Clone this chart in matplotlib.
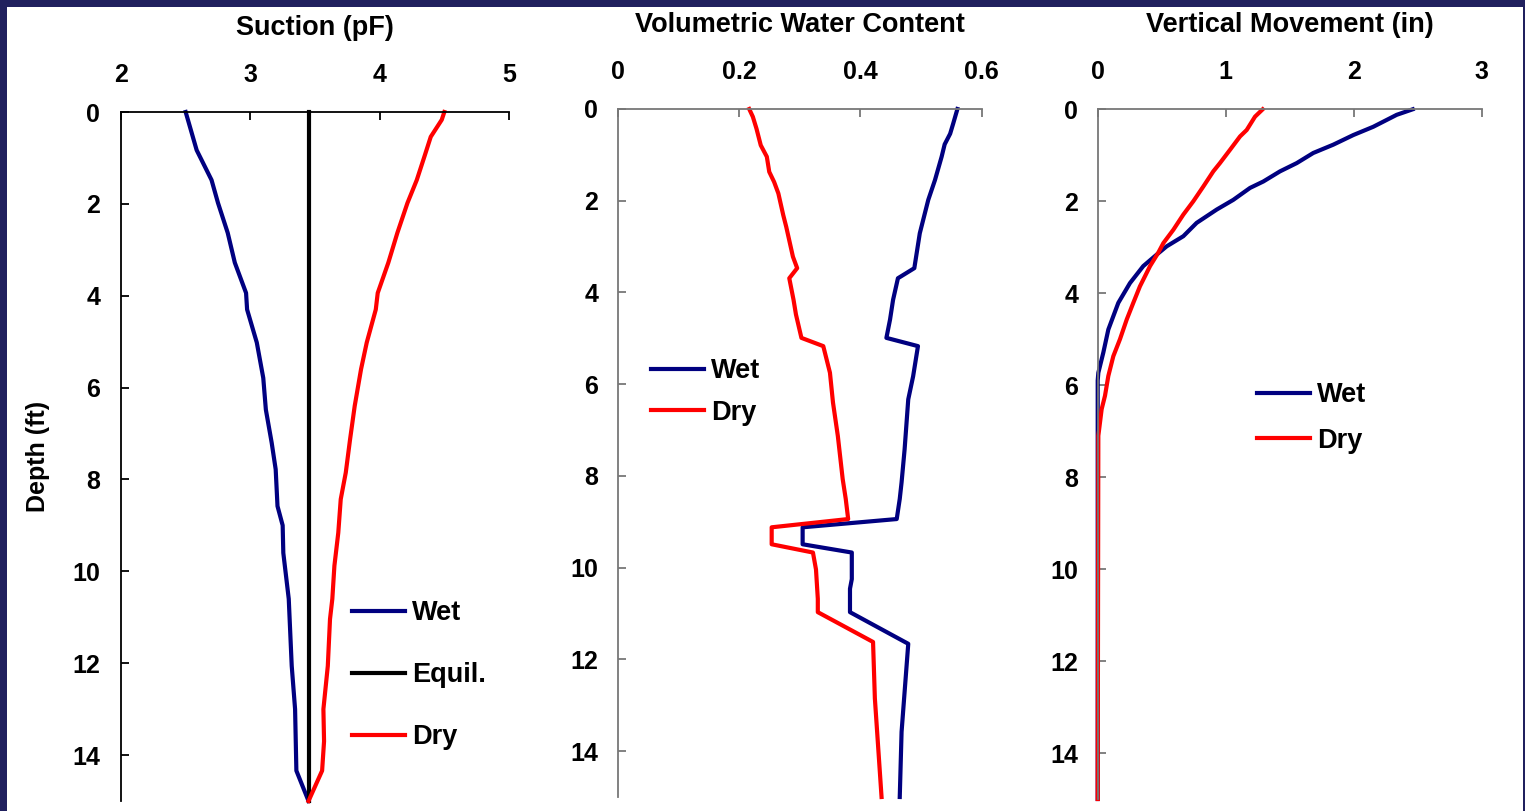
import matplotlib
matplotlib.use("Agg")
import matplotlib.pyplot as plt
from matplotlib.patches import Rectangle

plt.rcParams['font.family'] = ['Liberation Sans', 'DejaVu Sans']
plt.rcParams['font.weight'] = 'bold'

# ---------------- data ----------------
# Suction (pF)
suction_wet_depth = [0, 0.83, 1.48, 1.98, 2.63, 3.28, 3.94, 4.3, 5.02, 5.79, 6.48, 7.2, 7.78,
                     8.58, 9.0, 9.6, 10.6, 12.06, 13.0, 14.34, 15.0]
suction_wet = [2.50, 2.585, 2.70, 2.75, 2.825, 2.88, 2.967, 2.975, 3.05, 3.10, 3.12, 3.165, 3.196,
               3.21, 3.25, 3.255, 3.297, 3.32, 3.346, 3.356, 3.45]
suction_dry_depth = [0, 0.17, 0.54, 0.97, 1.48, 1.98, 2.63, 3.28, 3.94, 4.3, 5.02, 5.6, 6.4, 7.13,
                     7.85, 8.43, 9.16, 9.88, 10.6, 11.04, 12.06, 13.0, 13.7, 14.34, 15.0]
suction_dry = [4.50, 4.48, 4.395, 4.346, 4.287, 4.215, 4.137, 4.067, 3.985, 3.97, 3.90, 3.856, 3.807,
               3.771, 3.738, 3.699, 3.68, 3.65, 3.634, 3.616, 3.599, 3.565, 3.57, 3.555, 3.45]
suction_equil_depth = [0, 15]
suction_equil = [3.45, 3.45]

# Volumetric water content
vwc_wet_depth = [0, 0.32, 0.54, 0.77, 1.04, 1.55, 1.98, 2.71, 3.47, 3.69, 4.16, 4.59, 4.99, 5.17,
                 5.83, 6.33, 7.42, 8.14, 8.5, 8.94, 9.12, 9.49, 9.67, 10.25, 10.46, 10.97, 11.66,
                 13.58, 15.0]
vwc_wet = [0.560, 0.553, 0.548, 0.539, 0.534, 0.523, 0.512, 0.498, 0.489, 0.462, 0.454, 0.449, 0.443,
           0.495, 0.487, 0.479, 0.473, 0.468, 0.465, 0.460, 0.305, 0.305, 0.386, 0.386, 0.383, 0.383,
           0.479, 0.468, 0.465]
vwc_dry_depth = [0, 0.17, 0.43, 0.79, 1.04, 1.37, 1.59, 1.84, 2.31, 2.57, 3.22, 3.47, 3.69, 4.16,
                 4.48, 4.99, 5.17, 5.75, 6.4, 7.13, 8.07, 8.5, 8.94, 9.12, 9.49, 9.67, 10.04, 10.68,
                 10.97, 11.62, 12.85, 15.0]
vwc_dry = [0.217, 0.223, 0.229, 0.236, 0.246, 0.250, 0.258, 0.265, 0.273, 0.278, 0.289, 0.296, 0.283,
           0.290, 0.294, 0.303, 0.339, 0.350, 0.355, 0.363, 0.371, 0.376, 0.380, 0.254, 0.254, 0.322,
           0.327, 0.330, 0.330, 0.421, 0.424, 0.435]

# Vertical movement (in)
move_wet_depth = [0, 0.12, 0.38, 0.56, 0.77, 0.95, 1.17, 1.35, 1.57, 1.71, 1.97, 2.18, 2.47, 2.76,
                  2.98, 3.16, 3.41, 3.78, 4.21, 4.79, 5.29, 5.73, 5.9, 15.0]
move_wet = [2.461, 2.336, 2.153, 1.997, 1.84, 1.684, 1.555, 1.424, 1.294, 1.19, 1.059, 0.93, 0.773,
            0.669, 0.539, 0.461, 0.356, 0.252, 0.161, 0.083, 0.044, 0.005, 0.0, 0.0]
move_dry_depth = [0, 0.16, 0.45, 0.59, 0.88, 1.17, 1.35, 1.68, 2.0, 2.29, 2.62, 2.91, 3.12, 3.41,
                  3.85, 4.21, 4.57, 5.0, 5.37, 5.8, 6.23, 6.52, 7.1, 15.0]
move_dry = [1.289, 1.229, 1.164, 1.112, 1.034, 0.955, 0.903, 0.825, 0.747, 0.669, 0.591, 0.513,
            0.473, 0.409, 0.33, 0.278, 0.227, 0.174, 0.122, 0.083, 0.057, 0.031, 0.005, 0.0]

titles = ["Suction (pF)", "Volumetric Water Content", "Vertical Movement (in)"]
x_ticks = [[2, 3, 4, 5], [0, 0.2, 0.4, 0.6], [0, 1, 2, 3]]
x_ticklabels = [["2", "3", "4", "5"], ["0", "0.2", "0.4", "0.6"], ["0", "1", "2", "3"]]
y_ticks = [0, 2, 4, 6, 8, 10, 12, 14]
y_label = "Depth (ft)"

# ---------------- layout ----------------
W, H = 1525, 811
fig = plt.figure(figsize=(W / 100, H / 100), dpi=100)
fig.patch.set_facecolor('#20205e')
fig.patches.append(Rectangle((7 / W, 0), (1523 - 7) / W, (H - 7) / H, transform=fig.transFigure,
                             facecolor='white', edgecolor='none', zorder=-5))


def px_axes(l, t, r, b):
    return fig.add_axes([l / W, 1 - b / H, (r - l) / W, (b - t) / H])


NAVY = '#000080'
RED = '#ff0000'
LW = 3.0

axes_px = [(121, 112, 509, 801), (617.5, 109, 981.7, 797), (1097.7, 109.3, 1481.7, 799)]
xlims = [(2, 5), (0, 0.6), (0, 3)]
spine_cols = ['black', '#777777', '#777777']
ytick_pad = [15, 14, 14]
title_base = [35, 31.7, 32.3]

axs = []
for i, (l, t, r, b) in enumerate(axes_px):
    ax = px_axes(l, t, r, b)
    ax.set_facecolor('none')
    ax.set_xlim(*xlims[i])
    ax.set_ylim(15, 0)
    ax.xaxis.tick_top()
    ax.set_xticks(x_ticks[i])
    ax.set_xticklabels(x_ticklabels[i])
    ax.set_yticks(y_ticks)
    ax.set_yticklabels([str(v) for v in y_ticks])
    for s in ['right', 'bottom']:
        ax.spines[s].set_visible(False)
    for s in ['top', 'left']:
        ax.spines[s].set_color(spine_cols[i])
        ax.spines[s].set_linewidth(1.3)
    ax.tick_params(axis='x', direction='in', length=6, width=1.3, color=spine_cols[i],
                   labelsize=18, pad=18, top=True, bottom=False)
    ax.tick_params(axis='y', direction='in', length=6, width=1.3, color=spine_cols[i],
                   labelsize=18, pad=ytick_pad[i])
    for lab in ax.get_xticklabels() + ax.get_yticklabels():
        lab.set_fontweight('bold')
    fig.text(((l + r) / 2) / W, 1 - title_base[i] / H, titles[i], ha='center', va='baseline',
             fontsize=19.5, fontweight='bold')
    axs.append(ax)

fig.text(38 / W, 1 - 456 / H, y_label, rotation=90, ha='center', va='center',
         fontsize=18, fontweight='bold')

# Panel 1
ax = axs[0]
ax.plot(suction_wet, suction_wet_depth, color=NAVY, lw=LW, label='Wet', clip_on=False)
ax.plot(suction_equil, suction_equil_depth, color='black', lw=LW, label='Equil.', clip_on=False)
ax.plot(suction_dry, suction_dry_depth, color=RED, lw=LW, label='Dry', clip_on=False)

# Panel 2
ax = axs[1]
ax.plot(vwc_wet, vwc_wet_depth, color=NAVY, lw=LW, label='Wet', clip_on=False)
ax.plot(vwc_dry, vwc_dry_depth, color=RED, lw=LW, label='Dry', clip_on=False)

# Panel 3
ax = axs[2]
ax.plot(move_wet, move_wet_depth, color=NAVY, lw=LW, label='Wet', clip_on=False)
ax.plot(move_dry, move_dry_depth, color=RED, lw=LW, label='Dry', clip_on=False)

# legends (anchor = upper-left corner, px)
leg_specs = [(351.7, 600, 1.33), (651, 358.5, 0.56), (1256.7, 382.5, 0.71)]
for ax, (lx, ly, sp) in zip(axs, leg_specs):
    ax.legend(loc='upper left', bbox_to_anchor=(lx / W, 1 - ly / H),
              bbox_transform=fig.transFigure, frameon=False, borderpad=0,
              borderaxespad=0, handlelength=1.95, handletextpad=0.28,
              labelspacing=sp, prop={'size': 19.5, 'weight': 'bold'})

fig.savefig('out.png', dpi=100, facecolor=fig.get_facecolor())
